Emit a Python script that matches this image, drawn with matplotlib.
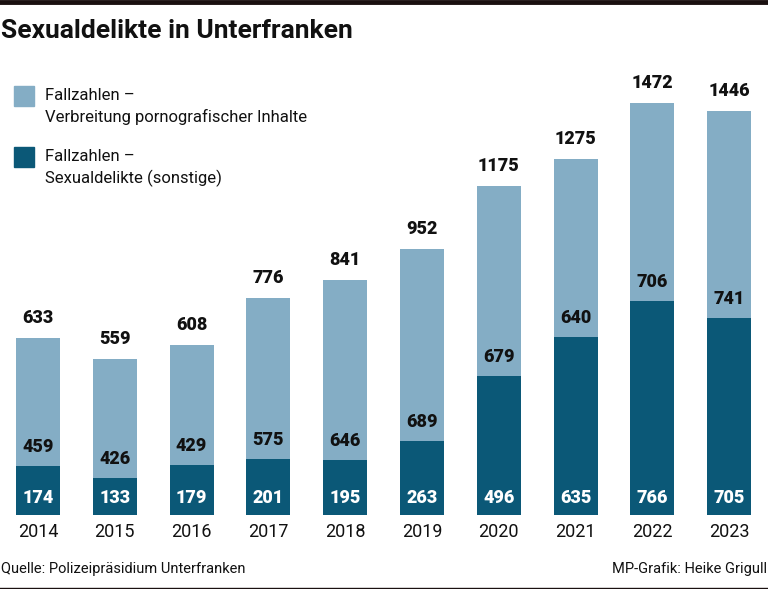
import matplotlib
matplotlib.use("Agg")
import matplotlib.pyplot as plt
from matplotlib.patches import Rectangle
from matplotlib.lines import Line2D

# Daten
years = ['2014', '2015', '2016', '2017', '2018', '2019', '2020', '2021', '2022', '2023']
sonstige = [174, 133, 179, 201, 195, 263, 496, 635, 766, 705]
porno = [459, 426, 429, 575, 646, 689, 679, 640, 706, 741]
totals = [633, 559, 608, 776, 841, 952, 1175, 1275, 1472, 1446]

light = '#84adc5'
dark = '#0b5877'

plt.rcParams['font.family'] = ['Roboto', 'DejaVu Sans']

W, H = 768, 589
fig = plt.figure(figsize=(W / 100, H / 100), dpi=100)

# axes: baseline at y=515 px, bars spaced 76.8 px
base_px = 515
ax = fig.add_axes([0, (H - base_px) / H, 1, base_px / H])
ax.set_xlim((0 - 38) / 76.8, (W - 38) / 76.8)
ax.set_ylim(0, base_px / 0.2796)
ax.axis('off')

x = list(range(len(years)))
bw = 44 / 76.8
ax.bar(x, sonstige, width=bw, color=dark, zorder=2)
ax.bar(x, porno, bottom=sonstige, width=bw, color=light, zorder=2)

for i in x:
    ax.annotate(str(totals[i]), (i, totals[i]), xytext=(0, 11), textcoords='offset pixels',
                ha='center', va='bottom', fontsize=13, fontweight='heavy', color='#111111')
    ax.annotate(str(sonstige[i]), (i, 0), xytext=(0, 17), textcoords='offset pixels',
                ha='center', va='center', fontsize=13, fontweight='heavy', color='white')
    ax.annotate(str(porno[i]), (i, sonstige[i]), xytext=(0, 19), textcoords='offset pixels',
                ha='center', va='center', fontsize=13, fontweight='heavy', color='#111111')
    ax.annotate(years[i], (i, 0), xytext=(0, -17), textcoords='offset pixels',
                ha='center', va='center', fontsize=13, color='#111111')


def fx(px):
    return px / W


def fy(py):
    return 1 - py / H


# top rule and bottom rule
fig.add_artist(Line2D([0, 1], [fy(2), fy(2)], color='#1a1010', lw=3.5))
fig.add_artist(Line2D([0, 1], [fy(587.5), fy(587.5)], color='#1a1010', lw=1))

fig.text(fx(1), fy(31), 'Sexualdelikte in Unterfranken', fontsize=19, fontweight='bold',
         color='#111111', ha='left', va='center')

# legend
for top, c, l1, l2 in [(86, light, 'Fallzahlen –', 'Verbreitung pornografischer Inhalte'),
                       (147, dark, 'Fallzahlen –', 'Sexualdelikte (sonstige)')]:
    fig.add_artist(Rectangle((fx(14), fy(top + 20)), 20 / W, 20 / H, color=c,
                             transform=fig.transFigure))
    fig.text(fx(45), fy(top + 9), l1, fontsize=12, color='#111111', ha='left', va='center')
    fig.text(fx(45), fy(top + 31), l2, fontsize=12, color='#111111', ha='left', va='center')

fig.text(fx(1), fy(569), 'Quelle: Polizeipräsidium Unterfranken', fontsize=10.5,
         color='#111111', ha='left', va='center')
fig.text(fx(767), fy(569), 'MP-Grafik: Heike Grigull', fontsize=10.5,
         color='#111111', ha='right', va='center')

fig.savefig('out.png', dpi=100)
